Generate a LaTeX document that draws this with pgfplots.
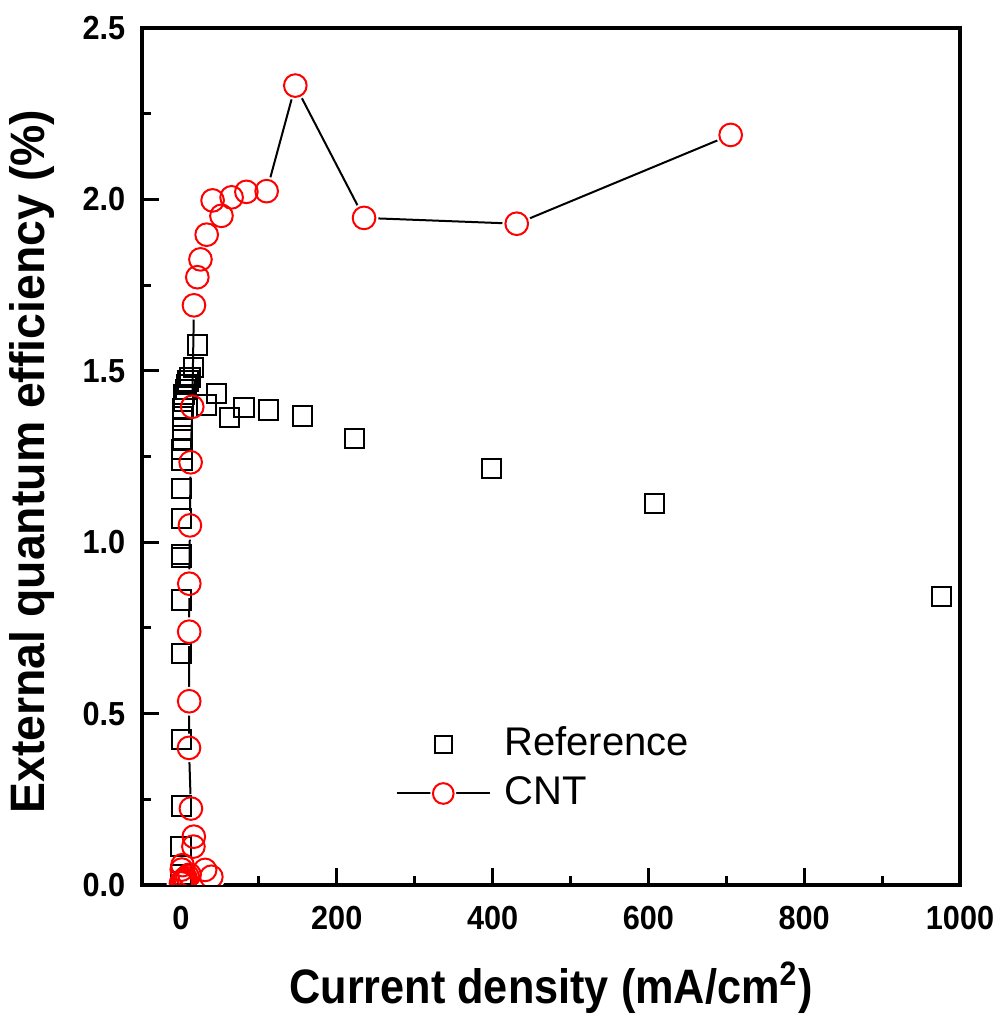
\documentclass[border=0pt]{standalone}
\usepackage{fontspec}
\setmainfont{Liberation Sans}
\newfontfamily\labfont[FakeStretch=0.92]{Liberation Sans}
\newfontfamily\xlabfont[FakeStretch=0.895]{Liberation Sans}
\newfontfamily\ylabfont[FakeStretch=0.96]{Liberation Sans}
\usepackage{pgfplots}
\usepackage{pgfplotstable}
\pgfplotsset{compat=1.18}
\usetikzlibrary{calc}

% reference device: EQE (%) vs current density (mA/cm^2)
\pgfplotstableread[row sep=\\]{
x y \\
0 0.01 \\ 0.1 0.03 \\ 0.2 0.112 \\ 0.3 0.23 \\ 0.4 0.424 \\ 0.5 0.675 \\ 0.6 0.831 \\
0.7 0.955 \\ 0.8 0.965 \\ 0.9 1.069 \\ 1.0 1.157 \\ 1.2 1.24 \\ 1.4 1.27 \\ 1.6 1.30 \\
1.8 1.33 \\ 2.0 1.366 \\ 2.5 1.39 \\ 3 1.41 \\ 4 1.43 \\ 5.5 1.445 \\ 7 1.46 \\ 9 1.47 \\
11.5 1.48 \\ 15.8 1.51 \\ 21.4 1.575 \\ 33 1.40 \\ 45.8 1.434 \\ 62 1.364 \\ 81 1.393 \\
112 1.386 \\ 156 1.368 \\ 223 1.302 \\ 399 1.214 \\ 608 1.112 \\ 976 0.841 \\
}\refdata

% CNT device
\pgfplotstableread[row sep=\\]{
x y \\
39 0.024 \\ 31 0.044 \\ 0 0.005 \\ 1 0.008 \\ 2.5 0.012 \\ 4 0.016 \\ 6 0.02 \\
8.5 0.025 \\ 11 0.03 \\ 1 0.045 \\ 2 0.058 \\ 16 0.112 \\ 16.5 0.141 \\ 12.8 0.223 \\
10.3 0.40 \\ 10.6 0.536 \\ 10.6 0.739 \\ 10.7 0.879 \\ 11.5 1.049 \\ 12.4 1.233 \\
14.5 1.395 \\ 16.7 1.691 \\ 21 1.773 \\ 25 1.825 \\ 33 1.897 \\ 40.6 1.997 \\ 52 1.952 \\
65 2.006 \\ 84 2.022 \\ 110 2.024 \\ 146.8 2.332 \\ 235 1.946 \\ 431 1.929 \\ 705.6 2.188 \\
}\cntdata

\begin{document}
\begin{tikzpicture}
\begin{axis}[
  name=ax,
  width=245.4pt, height=257.1pt, scale only axis,
  xmin=-50, xmax=1000, ymin=0, ymax=2.5,
  xtick={0,200,...,1000}, minor x tick num=1,
  ytick={0,0.5,...,2.5}, minor y tick num=1,
  tick align=inside, tick pos=left,
  major tick length=5.1pt, minor tick length=2.7pt,
  axis line style={line width=1.1pt},
  tick style={line width=0.9pt, black},
  /pgf/number format/assume math mode=true,
  /pgf/number format/1000 sep={},
  tick label style={font=\labfont\bfseries\fontsize{10}{12}\selectfont},
  yticklabel style={/pgf/number format/fixed, /pgf/number format/fixed zerofill,
    /pgf/number format/precision=1, xshift=-1.5pt},
  xticklabel style={anchor=base, yshift=-13.2pt},
  every axis x label/.style={at={(axis description cs:0.5,-0.1377)}, anchor=base,
    font=\xlabfont\bfseries\fontsize{14.5}{16}\selectfont},
  every axis y label/.style={at={(axis description cs:-0.1345,0.494)}, rotate=90, anchor=center,
    font=\ylabfont\bfseries\fontsize{14.5}{16}\selectfont},
  xlabel={Current density (mA/cm\textsuperscript{2})},
  ylabel={External quantum efficiency (\%)},
  clip marker paths=true,
  legend style={at={(axis description cs:0.297,0.197)}, anchor=north west,
    draw=none, fill=none, font=\fontsize{12}{14}\selectfont,
    nodes={inner sep=1pt, text height=8.6pt, text depth=2pt},
    row sep=2.1pt, cells={anchor=west},
    /tikz/every odd column/.append style={column sep=3pt}},
]
% CNT connecting line, then a white disc so the line stops short of each circle
\addplot[black, line width=0.6pt, forget plot] table {\cntdata};
\addplot[white, only marks, mark=*, mark size=4.1pt, mark options={white}, forget plot]
  table {\cntdata};
\addplot[only marks, mark=square, mark size=2.9pt, mark options={draw=black, line width=0.6pt},
  legend image code/.code={\draw[mark size=2.6pt] plot coordinates {(14pt,0pt)};}]
  table {\refdata};
\addlegendentry{Reference}
\addplot[only marks, mark=o, mark size=3.4pt,
  mark options={draw=red, fill=white, line width=0.6pt},
  legend image code/.code={
    \draw[black, line width=0.6pt] (0pt,0pt) -- (28pt,0pt);
    \fill[white] (14pt,0pt) circle (3.7pt);
    \draw[red, line width=0.6pt] (14pt,0pt) circle (3.1pt);}]
  table {\cntdata};
\addlegendentry{CNT}
\end{axis}
\pgfresetboundingbox
\path[use as bounding box] ($(ax.south west)+(-42.6pt,-41.1pt)$) rectangle ($(ax.north east)+(12.6pt,8.4pt)$);
\end{tikzpicture}
\end{document}
